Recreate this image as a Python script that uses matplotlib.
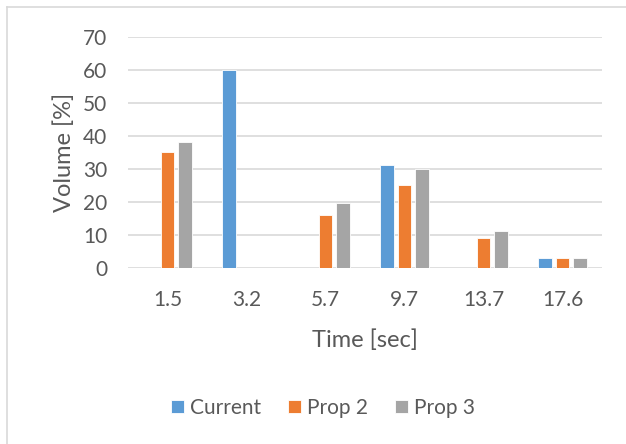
import matplotlib.pyplot as plt
import numpy as np
from matplotlib.lines import Line2D

plt.rcParams['font.family'] = ['Lato', 'DejaVu Sans']

# dados
times = ['1.5', '3.2', '5.7', '9.7', '13.7', '17.6']
current = [0, 60, 0, 31, 0, 3]
prop2 = [35, 0, 16, 25, 9, 3]
prop3 = [38, 0, 19.5, 30, 11, 3]

series = [('Current', current, '#5B9BD5'),
          ('Prop 2', prop2, '#ED7D31'),
          ('Prop 3', prop3, '#A5A5A5')]

fig = plt.figure(figsize=(6.26, 4.44), dpi=100)
ax = fig.add_axes([0.2045, 0.397, 0.757, 0.52])

x = np.arange(len(times))
w = 0.173
step = 0.224
for i, (name, vals, cor) in enumerate(series):
    ax.bar(x + (i - 1) * step, vals, width=w, color=cor, label=name,
           edgecolor='white', linewidth=0.6, zorder=3)

ax.set_xlim(-0.5, len(times) - 0.5)
ax.set_ylim(0, 70)
ax.set_yticks(np.arange(0, 71, 10))
ax.set_xticks(x)
ax.set_xticklabels(times)
ax.yaxis.grid(True, color='#D9D9D9', linewidth=1.2, zorder=0)
for s in ax.spines.values():
    s.set_visible(False)
ax.tick_params(axis='both', length=0, labelsize=15, colors='#595959')
ax.tick_params(axis='x', pad=16)
ax.tick_params(axis='y', pad=15)

ax.set_xlabel('Time [sec]', fontsize=17, color='#595959', labelpad=14)
ax.set_ylabel('Volume [%]', fontsize=17, color='#595959', labelpad=6)

fig.legend(loc='center', bbox_to_anchor=(323 / 626, 1 - 408 / 444), ncol=3,
           frameon=False, fontsize=15, labelcolor='#595959',
           handlelength=0.6, handleheight=0.6, handletextpad=0.3,
           columnspacing=1.3)

# borda do grafico
fig.add_artist(Line2D([7 / 626, 7 / 626], [0, 1 - 7 / 444], color='#D9D9D9',
                      linewidth=1.2, transform=fig.transFigure))
fig.add_artist(Line2D([7 / 626, 1], [1 - 7 / 444, 1 - 7 / 444], color='#D9D9D9',
                      linewidth=1.2, transform=fig.transFigure))

plt.savefig('out.png')
